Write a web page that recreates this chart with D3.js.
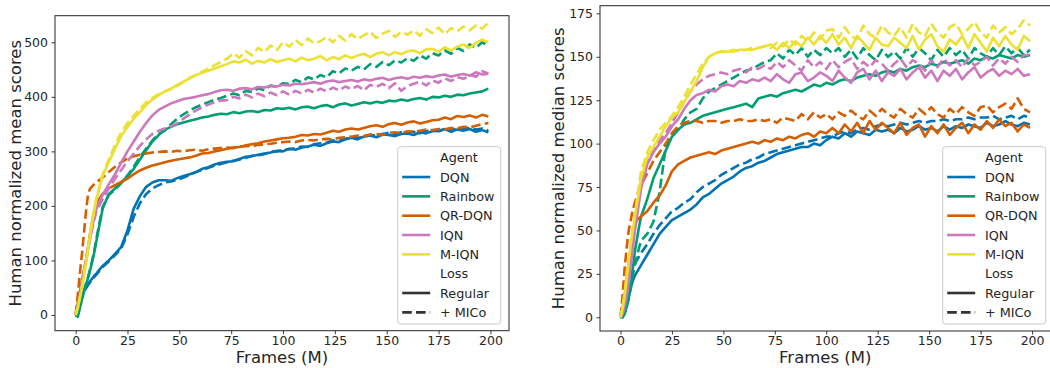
<!DOCTYPE html>
<html>
<head>
<meta charset="utf-8">
<script src="https://cdn.jsdelivr.net/npm/d3@7"></script>
<style>
  body { margin: 0; background: #fff; }
  svg { display: block; font-family: "DejaVu Sans", sans-serif; }
</style>
</head>
<body>
<svg id="chart" width="1050" height="368"></svg>
<script>
// frames (M) at which every run was evaluated
const frames = [0, 1, 2, 3, 4, 5, 6, 7, 8, 9, 10,
    13, 16, 19, 22, 25, 28, 31, 34, 37, 40,
    43, 46, 49, 52, 55, 58, 61, 64, 67, 70,
    73, 76, 79, 82, 85, 88, 91, 94, 97, 100,
    103, 106, 109, 112, 115, 118, 121, 124, 127, 130,
    133, 136, 139, 142, 145, 148, 151, 154, 157, 160,
    163, 166, 169, 172, 175, 178, 181, 184, 187, 190,
    193, 196, 199];

const agents = ["DQN", "Rainbow", "QR-DQN", "IQN", "M-IQN"];
const losses = ["Regular", "+ MICo"];
const xTicks = [0, 25, 50, 75, 100, 125, 150, 175, 200];
const meanTicks = [0, 100, 200, 300, 400, 500];
const medianTicks = [0, 25, 50, 75, 100, 125, 150, 175];

// human normalized mean scores
const meanDqn = [0, 10, 25, 36, 44, 51, 57, 62, 67, 72, 76,
    90, 100, 112, 125, 155, 195, 218, 235, 243, 247,
    247, 246, 251, 255, 258, 262, 268, 271, 276, 279,
    281, 282, 286, 290, 291, 294, 296, 298, 301, 300,
    305, 303, 307, 309, 312, 310, 315, 318, 317, 322,
    325, 322, 327, 329, 326, 331, 330, 328, 332, 333,
    330, 335, 333, 337, 338, 341, 336, 340, 338, 341,
    336, 339, 335];
const meanDqnMico = [0, 8, 22, 33, 42, 49, 55, 60, 65, 70, 74,
    88, 98, 110, 122, 148, 180, 205, 222, 232, 238,
    243, 245, 248, 252, 257, 262, 266, 270, 274, 277,
    280, 283, 285, 288, 292, 293, 295, 299, 300, 303,
    304, 306, 309, 308, 313, 315, 316, 320, 319, 323,
    326, 324, 328, 330, 329, 332, 334, 331, 335, 334,
    336, 333, 337, 339, 337, 340, 342, 339, 341, 343,
    340, 342, 338];
const meanRainbow = [0, -3, 12, 28, 42, 55, 68, 82, 98, 115, 135,
    195, 222, 232, 243, 254, 268, 285, 302, 318, 330,
    340, 345, 350, 353, 356, 359, 362, 364, 367, 369,
    368, 372, 370, 373, 374, 372, 376, 375, 379, 378,
    380, 377, 381, 382, 379, 383, 385, 381, 386, 388,
    384, 387, 390, 388, 391, 389, 393, 392, 395, 393,
    396, 398, 395, 400, 399, 402, 400, 404, 403, 406,
    408, 410, 415];
const meanRainbowMico = [0, -2, 14, 30, 45, 58, 70, 85, 100, 118, 140,
    198, 220, 230, 242, 256, 272, 290, 305, 320, 332,
    338, 350, 360, 368, 375, 381, 386, 390, 395, 398,
    402, 406, 403, 411, 409, 416, 412, 421, 418, 425,
    424, 431, 427, 436, 432, 440, 436, 447, 443, 452,
    448, 455, 450, 460, 455, 464, 458, 467, 463, 471,
    466, 476, 470, 480, 476, 485, 479, 490, 484, 496,
    490, 500, 494];
const meanQr = [0, 20, 42, 62, 82, 100, 125, 150, 172, 192, 205,
    222, 232, 238, 244, 250, 258, 265, 270, 274, 277,
    280, 283, 285, 287, 289, 292, 296, 297, 300, 302,
    305, 307, 308, 311, 313, 315, 318, 320, 322, 324,
    325, 327, 330, 329, 332, 331, 334, 338, 336, 340,
    342, 340, 343, 346, 348, 345, 350, 352, 349, 353,
    355, 351, 354, 357, 358, 362, 359, 365, 363, 366,
    362, 367, 364];
const meanQrMico = [0, 35, 75, 110, 150, 190, 222, 232, 236, 240, 243,
    252, 262, 272, 280, 287, 291, 294, 296, 298, 299,
    300, 299, 301, 300, 302, 303, 301, 304, 305, 306,
    307, 306, 309, 310, 309, 312, 313, 314, 316, 317,
    318, 317, 320, 321, 320, 322, 323, 322, 325, 326,
    327, 329, 328, 331, 332, 330, 334, 335, 333, 337,
    336, 338, 340, 339, 341, 340, 343, 342, 345, 344,
    347, 350, 352];
const meanIqn = [0, 15, 35, 58, 80, 100, 122, 143, 162, 180, 195,
    220, 240, 258, 280, 300, 318, 336, 352, 366, 376,
    382, 388, 392, 396, 398, 400, 403, 405, 409, 412,
    413, 411, 415, 416, 414, 418, 417, 420, 419, 422,
    421, 424, 423, 425, 427, 424, 428, 430, 427, 429,
    431, 428, 432, 430, 433, 435, 431, 434, 436, 433,
    437, 435, 438, 436, 439, 441, 437, 440, 442, 439,
    445, 441, 442];
const meanIqnMico = [0, 14, 33, 56, 78, 98, 120, 140, 158, 175, 190,
    212, 232, 250, 266, 282, 296, 310, 322, 332, 338,
    342, 346, 352, 360, 368, 375, 381, 386, 390, 393,
    394, 400, 397, 404, 399, 406, 401, 408, 403, 410,
    404, 411, 406, 413, 408, 415, 410, 417, 412, 419,
    414, 420, 412, 422, 418, 424, 416, 425, 411, 420,
    424, 428, 421, 430, 426, 434, 429, 436, 433, 440,
    437, 447, 443];
const meanMiqn = [0, 12, 30, 50, 72, 95, 120, 145, 170, 192, 211,
    255, 280, 305, 328, 345, 360, 372, 385, 395, 403,
    410, 415, 422, 428, 434, 440, 444, 448, 452, 456,
    460, 465, 463, 468, 461, 466, 463, 469, 464, 467,
    470, 465, 472, 467, 470, 475, 467, 473, 469, 476,
    471, 476, 479, 473, 479, 482, 476, 482, 478, 484,
    485, 480, 487, 488, 483, 491, 485, 492, 496, 490,
    499, 505, 500];
const meanMiqnMico = [0, 14, 32, 52, 75, 98, 123, 150, 175, 196, 215,
    258, 285, 312, 335, 352, 365, 378, 390, 398, 405,
    410, 414, 420, 427, 435, 440, 446, 452, 458, 464,
    470, 480, 472, 484, 476, 490, 482, 494, 486, 500,
    492, 504, 495, 507, 498, 502, 510, 500, 512, 503,
    515, 506, 513, 519, 508, 516, 521, 510, 519, 514,
    522, 512, 524, 517, 527, 515, 526, 520, 529, 522,
    531, 525, 536];

// human normalized median scores
const medDqn = [0, 1, 3, 7, 12, 17, 21, 24, 26, 28, 30,
    36, 42, 48, 52, 56, 58, 60, 62, 65, 69,
    71, 74, 77, 79, 81, 84, 86, 87, 89, 90,
    92, 94, 95, 96, 97, 98, 98, 100, 99, 102,
    104, 103, 106, 104, 107, 106, 105, 108, 107, 108,
    106, 109, 107, 108, 110, 108, 109, 107, 110, 108,
    110, 109, 111, 110, 109, 112, 110, 111, 113, 111,
    110, 112, 111];
const medDqnMico = [0, 1, 4, 9, 15, 21, 28, 31, 33, 35, 37,
    42, 48, 53, 57, 61, 63, 66, 68, 72, 75,
    77, 79, 82, 84, 86, 88, 89, 91, 92, 94,
    95, 96, 97, 98, 99, 100, 101, 102, 103, 104,
    104, 106, 107, 106, 108, 109, 108, 110, 111, 110,
    111, 112, 111, 112, 113, 112, 113, 113, 114, 113,
    114, 114, 115, 114, 115, 115, 116, 114, 115, 116,
    114, 116, 115];
const medRainbow = [0, 0, 2, 6, 11, 18, 28, 38, 45, 52, 58,
    68, 80, 88, 96, 104, 108, 111, 112, 114, 116,
    117, 118, 119, 120, 121, 122, 123, 121, 126, 127,
    128, 127, 129, 130, 131, 130, 132, 134, 133, 135,
    134, 136, 137, 136, 138, 139, 140, 139, 141, 142,
    141, 143, 142, 144, 145, 144, 146, 145, 147, 146,
    147, 148, 146, 149, 148, 150, 149, 151, 150, 149,
    151, 150, 151];
const medRainbowMico = [0, 0, 2, 6, 11, 17, 24, 30, 35, 40, 44,
    48, 55, 72, 98, 104, 108, 114, 118, 120, 126,
    130, 132, 134, 136, 138, 140, 142, 143, 145, 147,
    148, 152, 149, 154, 151, 155, 150, 154, 151, 155,
    152, 155, 150, 154, 149, 155, 151, 148, 154, 150,
    153, 149, 155, 150, 155, 152, 148, 154, 150, 155,
    151, 154, 149, 155, 152, 150, 155, 151, 156, 152,
    155, 151, 154];
const medQr = [0, 5, 12, 22, 32, 40, 48, 53, 56, 57, 58,
    61, 66, 70, 76, 84, 88, 90, 92, 93, 94,
    95, 94, 96, 97, 98, 99, 100, 101, 100, 102,
    101, 103, 102, 104, 103, 105, 106, 104, 107, 106,
    109, 106, 111, 107, 112, 106, 113, 108, 112, 109,
    106, 112, 105, 109, 111, 104, 110, 106, 111, 105,
    109, 112, 106, 111, 108, 113, 109, 114, 110, 112,
    107, 111, 109];
const medQrMico = [0, 12, 28, 40, 50, 56, 62, 66, 70, 73, 76,
    83, 90, 95, 100, 106, 110, 112, 113, 113, 112,
    113, 113, 112, 113, 113, 114, 113, 113, 114, 113,
    114, 112, 115, 114, 113, 117, 114, 118, 115, 117,
    114, 118, 116, 119, 116, 114, 119, 116, 120, 117,
    115, 120, 117, 115, 120, 117, 121, 117, 115, 120,
    117, 121, 118, 116, 121, 122, 118, 121, 123, 120,
    126, 120, 118];
const medIqn = [0, 2, 6, 12, 20, 30, 40, 50, 58, 66, 74,
    88, 95, 100, 104, 110, 114, 120, 125, 128, 129,
    131, 130, 133, 134, 133, 136, 135, 137, 136, 138,
    136, 140, 137, 135, 140, 141, 136, 138, 141, 139,
    136, 142, 138, 135, 141, 143, 137, 142, 136, 141,
    139, 143, 137, 141, 144, 138, 142, 136, 142, 139,
    143, 137, 141, 144, 138, 141, 143, 139, 142, 140,
    143, 139, 140];
const medIqnMico = [0, 2, 7, 14, 22, 32, 42, 52, 60, 68, 76,
    90, 96, 102, 106, 112, 118, 124, 130, 134, 137,
    139, 140, 141, 140, 142, 143, 141, 144, 143, 145,
    143, 147, 144, 148, 145, 142, 148, 144, 147, 143,
    148, 144, 147, 149, 143, 147, 144, 148, 146, 142,
    146, 149, 144, 148, 146, 142, 148, 144, 149, 145,
    148, 144, 149, 145, 147, 150, 145, 149, 146, 150,
    147, 151, 151];
const medMiqn = [0, 5, 12, 22, 32, 42, 50, 58, 65, 72, 80,
    92, 98, 104, 110, 115, 118, 124, 130, 136, 144,
    150, 152, 153, 153, 153, 154, 154, 154, 155, 156,
    157, 154, 158, 155, 159, 156, 161, 157, 162, 158,
    163, 157, 161, 155, 162, 158, 154, 161, 157, 156,
    161, 158, 155, 162, 154, 160, 163, 156, 153, 160,
    157, 162, 155, 163, 158, 153, 161, 156, 162, 157,
    154, 162, 159];
const medMiqnMico = [0, 6, 14, 24, 34, 44, 52, 60, 68, 76, 84,
    95, 102, 108, 112, 116, 121, 127, 134, 140, 146,
    150, 152, 153, 153, 154, 153, 154, 155, 155, 156,
    155, 158, 156, 160, 157, 162, 159, 164, 160, 165,
    166, 161, 167, 162, 160, 168, 163, 161, 168, 164,
    162, 167, 161, 169, 164, 162, 169, 164, 161, 167,
    169, 163, 166, 170, 164, 161, 168, 164, 167, 163,
    166, 171, 168];

// seaborn "colorblind" palette
const agentColors = {
    "DQN": "#0173b2",
    "Rainbow": "#029e73",
    "QR-DQN": "#d55e00",
    "IQN": "#cc78bc",
    "M-IQN": "#ece133"
};
const LW = 2.6;
const DASH = "9.6,4.2";
const INK = "#262626";

const meanSeries = [
    ["DQN", "Regular", meanDqn], ["DQN", "+ MICo", meanDqnMico],
    ["Rainbow", "Regular", meanRainbow], ["Rainbow", "+ MICo", meanRainbowMico],
    ["QR-DQN", "Regular", meanQr], ["QR-DQN", "+ MICo", meanQrMico],
    ["IQN", "Regular", meanIqn], ["IQN", "+ MICo", meanIqnMico],
    ["M-IQN", "Regular", meanMiqn], ["M-IQN", "+ MICo", meanMiqnMico]
];
const medianSeries = [
    ["DQN", "Regular", medDqn], ["DQN", "+ MICo", medDqnMico],
    ["Rainbow", "Regular", medRainbow], ["Rainbow", "+ MICo", medRainbowMico],
    ["QR-DQN", "Regular", medQr], ["QR-DQN", "+ MICo", medQrMico],
    ["IQN", "Regular", medIqn], ["IQN", "+ MICo", medIqnMico],
    ["M-IQN", "Regular", medMiqn], ["M-IQN", "+ MICo", medMiqnMico]
];

function drawPanel(svg, p) {
    let x = d3.scaleLinear().domain([-9.95, 208.95]).range([p.left, p.right]);
    let y = d3.scaleLinear().domain(p.yDomain).range([p.bottom, p.top]);

    let g = svg.append("g").attr("class", "panel-" + p.id);

    g.append("clipPath").attr("id", "clip-" + p.id)
        .append("rect")
        .attr("x", p.left).attr("y", p.top)
        .attr("width", p.right - p.left).attr("height", p.bottom - p.top);

    // lines
    let line = d3.line()
        .x((d, i) => x(frames[i]))
        .y(d => y(d));
    g.append("g")
        .attr("clip-path", `url(#clip-${p.id})`)
        .selectAll("path")
        .data(p.series)
        .join("path")
        .attr("d", d => line(d[2]))
        .attr("fill", "none")
        .attr("stroke", d => agentColors[d[0]])
        .attr("stroke-width", LW)
        .attr("stroke-linejoin", "round")
        .attr("stroke-dasharray", d => d[1] === "+ MICo" ? DASH : null);

    // axes
    let xAxis = g.append("g")
        .attr("transform", `translate(0,${p.bottom})`)
        .call(d3.axisBottom(x).tickValues(xTicks).tickSize(3.5).tickPadding(2));
    let yAxis = g.append("g")
        .attr("transform", `translate(${p.left},0)`)
        .call(d3.axisLeft(y).tickValues(p.yTicks).tickSize(3.5).tickPadding(3.5));
    [xAxis, yAxis].forEach(ax => {
        ax.select(".domain").remove();
        ax.selectAll(".tick line").attr("stroke", INK).attr("stroke-width", 0.9);
        ax.selectAll(".tick text")
            .attr("fill", INK)
            .style("font-size", "12.5px")
            .style("font-family", "'DejaVu Sans', sans-serif");
    });

    // spines
    g.append("rect")
        .attr("x", p.left).attr("y", p.top)
        .attr("width", p.right - p.left).attr("height", p.bottom - p.top)
        .attr("fill", "none")
        .attr("stroke", INK)
        .attr("stroke-width", 1);

    // labels
    g.append("text")
        .attr("x", (p.left + p.right) / 2)
        .attr("y", 363)
        .attr("text-anchor", "middle")
        .attr("fill", INK)
        .style("font-size", "16.5px")
        .text("Frames (M)");
    g.append("text")
        .attr("transform", `translate(${p.yLabelX},${(p.top + p.bottom) / 2}) rotate(-90)`)
        .attr("text-anchor", "middle")
        .attr("dy", "0.35em")
        .attr("fill", INK)
        .style("font-size", "16.5px")
        .text(p.yLabel);

    drawLegend(g, p.legendX, 146.7);
}

function drawLegend(g, lx, ly) {
    let rows = [{ label: "Agent" }]
        .concat(agents.map(a => ({ label: a, color: agentColors[a] })))
        .concat([{ label: "Loss" }])
        .concat(losses.map(l => ({ label: l, color: "#333", dash: l === "+ MICo" })));

    let lg = g.append("g").attr("class", "legend");
    lg.append("rect")
        .attr("x", lx).attr("y", ly)
        .attr("width", 103).attr("height", 177.3)
        .attr("rx", 3)
        .attr("fill", "#fff").attr("fill-opacity", 0.8)
        .attr("stroke", "#cccccc").attr("stroke-width", 1);

    let step = 19.33;
    let row = lg.selectAll("g.row")
        .data(rows)
        .join("g")
        .attr("class", "row")
        .attr("transform", (d, i) => `translate(${lx},${ly + 11 + i * step})`);
    row.filter(d => d.color)
        .append("line")
        .attr("x1", 4.5).attr("x2", 32.5)
        .attr("stroke", d => d.color)
        .attr("stroke-width", LW)
        .attr("stroke-dasharray", d => d.dash ? DASH : null);
    row.append("text")
        .attr("x", 42.3)
        .attr("dy", "0.36em")
        .attr("fill", INK)
        .style("font-size", "12.8px")
        .text(d => d.label);
}

let svg = d3.select("#chart");

drawPanel(svg, {
    id: "mean",
    left: 55, right: 509, top: 15.7, bottom: 330.7,
    yDomain: [-28.8, 548.8],
    yTicks: meanTicks,
    yLabel: "Human normalized mean scores",
    yLabelX: 15,
    legendX: 397.7,
    series: meanSeries
});

drawPanel(svg, {
    id: "median",
    left: 600, right: 1050.5, top: 5.7, bottom: 331,
    yDomain: [-7.9, 179.4],
    yTicks: medianTicks,
    yLabel: "Human normalized median scores",
    yLabelX: 558.3,
    legendX: 942.7,
    series: medianSeries
});
</script>
</body>
</html>
